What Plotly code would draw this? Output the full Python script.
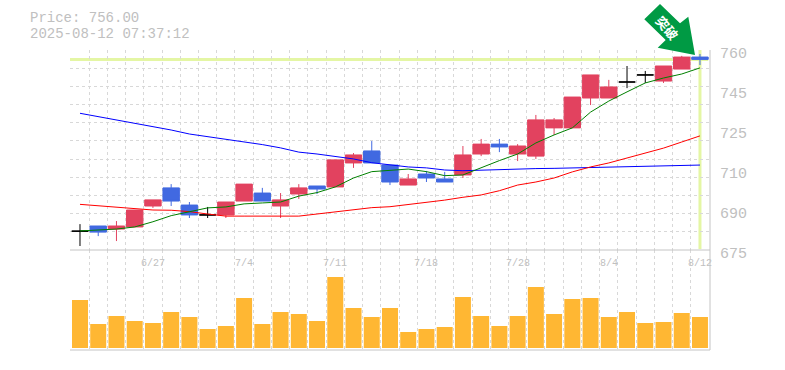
import plotly.graph_objects as go

# ---- data ----
price_text = "Price: 756.00"
time_text = "2025-08-12 07:37:12"
arrow_text = "突破"
last_price = 756.0

date_idx = [4, 9, 14, 19, 24, 29, 34]
date_labels = ["6/27", "7/4", "7/11", "7/18", "7/28", "8/4", "8/12"]
ytick_vals = [760, 743, 726, 709, 692, 675]
ytick_labels = ["760", "745", "725", "710", "690", "675"]

up_x = [2, 3, 4, 8, 9, 11, 12, 14, 15, 18, 21, 22, 24, 25, 26, 27, 28, 29, 32, 33]
up_open = [683.9, 684.8, 693.7, 689.9, 695.8, 693.7, 698.8, 701.8, 712.0, 702.6, 706.9, 715.8, 715.8, 714.9, 726.9, 726.9, 739.6, 739.6, 746.8, 751.9]
up_high = [687.3, 692.0, 696.3, 695.4, 703.0, 699.2, 703.0, 713.3, 716.2, 707.3, 719.2, 722.2, 720.0, 732.4, 731.1, 740.0, 749.4, 747.3, 753.2, 757.5]
up_low = [678.8, 684.8, 692.9, 688.6, 695.8, 688.6, 696.7, 701.8, 709.9, 702.6, 705.6, 714.9, 712.8, 713.7, 723.9, 726.9, 736.6, 739.6, 746.0, 751.9]
up_close = [685.2, 692.0, 696.3, 695.4, 703.0, 696.3, 701.4, 713.3, 715.4, 705.2, 715.4, 720.0, 719.2, 730.3, 730.3, 740.0, 749.4, 744.3, 753.2, 757.0]

down_x = [1, 5, 6, 10, 13, 16, 17, 19, 20, 23, 34]
down_open = [685.2, 701.4, 694.1, 699.2, 702.2, 717.1, 711.1, 707.3, 705.2, 720.0, 757.0]
down_high = [685.2, 703.0, 695.4, 701.4, 702.2, 721.3, 711.1, 708.6, 708.2, 722.2, 758.3]
down_low = [680.9, 693.7, 688.6, 695.8, 698.8, 712.0, 702.6, 703.9, 703.9, 716.6, 753.6]
down_close = [682.6, 695.8, 689.9, 695.8, 700.9, 712.0, 703.9, 705.6, 703.9, 718.8, 756.0]

doji_x = [0, 7, 30, 31]
doji_price = [683.0, 689.9, 746.4, 749.4]
doji_high = [686.0, 693.3, 753.2, 751.1]
doji_low = [676.7, 688.6, 743.8, 746.0]

ma_short = [683.1, 683.5, 683.9, 684.8, 687.0, 689.6, 691.3, 692.9, 693.3, 694.6, 695.0, 695.4, 697.9, 699.4, 701.8, 705.6, 708.3, 708.7, 709.4, 708.3, 706.6, 706.9, 710.0, 713.0, 715.8, 720.5, 723.9, 726.9, 733.6, 738.3, 742.2, 746.0, 748.1, 749.8, 752.4]
ma_mid = [694.4, 693.8, 693.3, 692.4, 692.0, 691.9, 691.3, 690.3, 689.4, 689.4, 689.4, 689.4, 689.4, 690.3, 691.2, 692.0, 693.0, 693.4, 694.3, 695.3, 696.2, 697.4, 698.4, 700.2, 702.6, 703.9, 705.6, 708.2, 710.3, 712.0, 714.1, 716.2, 718.3, 720.9, 723.5]
ma_long = [733.1, 731.7, 730.3, 729.0, 727.5, 726.0, 724.3, 723.2, 722.0, 720.9, 719.8, 718.4, 716.6, 715.8, 714.9, 713.7, 712.1, 711.1, 710.3, 709.9, 709.0, 708.7, 709.0, 709.2, 709.3, 709.6, 709.7, 709.9, 710.0, 710.1, 710.3, 710.5, 710.7, 710.9, 711.1]

volume = [48, 24, 32, 27, 25, 36, 31, 19, 22, 50, 24, 36, 34, 27, 71, 40, 31, 40, 16, 19, 21, 51, 32, 22, 32, 61, 34, 49, 50, 31, 36, 25, 26, 35, 31]

# ---- style ----
RED, BLUE, ORANGE = "#e2425f", "#4169e1", "#ffb733"
GRID, AXIS, TEXT, HILITE = "#d8d8d8", "#c4c4c4", "#c0c0c0", "#e4f6a4"
W, H, L, R, T, B = 785, 370, 70, 75, 50, 20
MONO = "Liberation Mono"


def px(x):
    return (x - L) / (W - L - R)


def py(y):
    return (H - B - y) / (H - T - B)


xs = list(range(len(volume)))
fig = go.Figure()


def candle(x, o, h, l, c, color):
    fig.add_trace(go.Candlestick(
        x=x, open=o, high=h, low=l, close=c, xaxis="x", yaxis="y",
        whiskerwidth=0,
        increasing=dict(line=dict(color=color, width=1), fillcolor=color),
        decreasing=dict(line=dict(color=color, width=1), fillcolor=color),
        showlegend=False, hoverinfo="skip"))


for name, vals, col in [("long", ma_long, "#0000ff"), ("mid", ma_mid, "#ff0000"), ("short", ma_short, "#008000")]:
    fig.add_trace(go.Scatter(x=xs, y=vals, mode="lines", name=name, line=dict(color=col, width=1),
                             showlegend=False, hoverinfo="skip"))

candle(up_x, up_open, up_high, up_low, up_close, RED)
candle(down_x, down_open, down_high, down_low, down_close, BLUE)
candle(doji_x, doji_price, doji_high, doji_low, doji_price, "#000000")

fig.add_trace(go.Bar(x=xs, y=volume, width=0.877, marker=dict(color=ORANGE, line=dict(width=0)),
                     xaxis="x", yaxis="y2", showlegend=False, hoverinfo="skip"))

arrow_pts = [(660, 4), (644.3, 19.3), (665.7, 40), (657.7, 47.7), (695, 55), (688.3, 16.7), (680, 23.3)]
arrow_path = "M " + " L ".join(f"{px(a)},{py(b)}" for a, b in arrow_pts) + " Z"

shapes = [
    dict(type="line", xref="x", yref="y", x0=-0.55, x1=34.45, y0=last_price, y1=last_price,
         line=dict(color=HILITE, width=3), layer="below"),
    dict(type="line", xref="x", yref="y", x0=34, x1=34, y0=675.4, y1=760,
         line=dict(color=HILITE, width=3), layer="below"),
    dict(type="line", xref="paper", yref="paper", x0=0, x1=1, y0=py(250), y1=py(250), line=dict(color=AXIS, width=1)),
    dict(type="line", xref="paper", yref="paper", x0=0, x1=1, y0=0, y1=0, line=dict(color=AXIS, width=1)),
    dict(type="line", xref="paper", yref="paper", x0=1, x1=1, y0=0, y1=1, line=dict(color=AXIS, width=1)),
    dict(type="path", xref="paper", yref="paper", path=arrow_path, fillcolor="#009a44", line=dict(width=0)),
]

ann = [
    dict(xref="paper", yref="paper", x=px(29), y=py(18), text=price_text, xanchor="left", yanchor="middle",
         showarrow=False, borderpad=0, font=dict(family=MONO, size=14, color=TEXT)),
    dict(xref="paper", yref="paper", x=px(29), y=py(34), text=time_text, xanchor="left", yanchor="middle",
         showarrow=False, borderpad=0, font=dict(family=MONO, size=14, color=TEXT)),
    dict(xref="paper", yref="paper", x=px(667.5), y=py(27), text="<b>" + arrow_text + "</b>", textangle=50,
         xanchor="center", yanchor="middle", showarrow=False,
         font=dict(family="Noto Sans CJK JP", size=13, color="#ffffff")),
]
for v, t in zip(ytick_vals, ytick_labels):
    ann.append(dict(xref="paper", yref="y", x=px(719), y=v, yshift=-4, text=t, xanchor="left", yanchor="middle",
                    showarrow=False, borderpad=0, font=dict(family=MONO, size=15, color=TEXT)))
for i, t in zip(date_idx, date_labels):
    ann.append(dict(xref="x", yref="paper", x=i, y=py(263), text=t, xanchor="center", yanchor="middle",
                    showarrow=False, font=dict(family=MONO, size=10, color=TEXT)))

fig.update_layout(
    width=W, height=H, autosize=False,
    margin=dict(l=L, r=R, t=T, b=B, pad=0),
    paper_bgcolor="#ffffff", plot_bgcolor="#ffffff",
    boxmode="overlay", boxgap=0.1, boxgroupgap=0,
    xaxis=dict(range=[-0.548, 34.55], anchor="y2", tickmode="array", tickvals=[k - 0.5 for k in xs],
               showticklabels=False, ticks="", showgrid=True, gridcolor=GRID, griddash="3px,3px", gridwidth=1,
               zeroline=False, rangeslider=dict(visible=False)),
    yaxis=dict(domain=[py(250), 1], range=[675, 760], tickmode="array",
               tickvals=[675 + k * 85 / 11 for k in range(12)], showticklabels=False, ticks="",
               showgrid=True, gridcolor=GRID, griddash="3px,3px", gridwidth=1, zeroline=False, anchor="x"),
    yaxis2=dict(domain=[0, py(250)], range=[-2, 98], showticklabels=False, ticks="", showgrid=False,
                zeroline=False, anchor="x"),
    shapes=shapes, annotations=ann,
)

fig.write_html("out.html", config={"displayModeBar": False},
               post_script="document.body.style.margin='0';document.documentElement.style.overflow='hidden';")
